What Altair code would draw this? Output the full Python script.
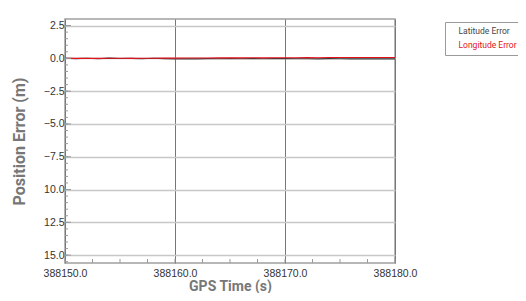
import altair as alt
import pandas as pd

times = [388150, 388151, 388152, 388153, 388154, 388155, 388156, 388157, 388158, 388159,
         388160, 388161, 388162, 388163, 388164, 388165, 388166, 388167, 388168, 388169,
         388170, 388171, 388172, 388173, 388174, 388175, 388176, 388177, 388178, 388179, 388180]
lat_err = [0.01, -0.02, 0.01, -0.03, 0.02, -0.01, 0.00, -0.03, 0.01, -0.02,
           -0.04, -0.03, -0.04, -0.02, -0.03, -0.02, -0.03, -0.02, -0.03, -0.02,
           -0.02, -0.03, -0.03, -0.04, -0.02, -0.03, -0.04, -0.03, -0.04, -0.03, -0.04]
lon_err = [0.00, 0.01, 0.00, 0.00, 0.01, 0.01, 0.00, 0.01, 0.01, 0.02,
           0.02, 0.03, 0.03, 0.03, 0.04, 0.04, 0.04, 0.05, 0.04, 0.05,
           0.05, 0.05, 0.06, 0.05, 0.06, 0.06, 0.06, 0.07, 0.07, 0.07, 0.07]
series = ["Latitude Error", "Longitude Error"]
colors = ["#3a3a3a", "#e3131b"]
y_major = [2.5, 0.0, -2.5, -5.0, -7.5, -10.0, -12.5, -15.0]
y_minor = [v / 2 for v in range(-31, 6)]
x_major = [388150, 388160, 388170, 388180]
x_minor = [388150 + 2.5 * i for i in range(13)]

LFONT = "Liberation Sans, Arial, sans-serif"
TFONT = "Roboto, sans-serif"

rows = []
for t, a, b in zip(times, lat_err, lon_err):
    rows.append({"t": t, "err": a, "series": series[0]})
    rows.append({"t": t, "err": b, "series": series[1]})
df = pd.DataFrame(rows)

xs = alt.Scale(domain=[388150, 388180], nice=False, zero=False)
ys = alt.Scale(domain=[-15.6, 3.0], nice=False, zero=False)

x_axis = alt.Axis(values=x_major, format=".1f", grid=True, gridColor="#777",
                  gridWidth=1, tickSize=0, labelPadding=5, domain=False,
                  labelOverlap=False, labelBound=False, labelFlush=False,
                  labelColor="#333", labelFontSize=10.5, labelFont=LFONT,
                  titleFont=TFONT, titleFontSize=14, titleFontWeight="bold",
                  titleColor="#777", titlePadding=1)
y_axis = alt.Axis(values=y_major, grid=True, gridColor="#c8c8c8", gridWidth=1.5,
                  tickSize=0, labelPadding=1, domain=False,
                  labelOverlap=False, labelBound=False, labelFlush=False,
                  labelExpr="format(abs(datum.value) >= 10 ? -datum.value : datum.value, '.1f')",
                  labelColor="#333", labelFontSize=10.5, labelFont=LFONT,
                  titleFont=TFONT, titleFontSize=16, titleFontWeight="bold",
                  titleColor="#777", titlePadding=16)
XT = "GPS Time (s)"
YT = "Position Error (m)"

lines = alt.Chart(df).mark_line(strokeWidth=1.1, clip=True).encode(
    x=alt.X("t:Q", scale=xs, title=XT, axis=x_axis),
    y=alt.Y("err:Q", scale=ys, title=YT, axis=y_axis),
    color=alt.Color("series:N", scale=alt.Scale(domain=series, range=colors),
                    legend=alt.Legend(title=None, orient="none", legendX=380, legendY=3,
                                      symbolSize=0, symbolOpacity=0, symbolStrokeWidth=0,
                                      labelOffset=0, labelFont=TFONT, labelFontSize=8.5,
                                      labelColor=alt.ExprRef("datum.value == 'Longitude Error' ? '#e3131b' : '#444'"),
                                      strokeColor="#9a9a9a", fillColor="white", padding=5,
                                      rowPadding=5)),
)

ymin = alt.Chart(pd.DataFrame({"v": y_minor})).mark_rule(color="#999", strokeWidth=1).encode(
    y=alt.Y("v:Q", scale=ys, title=YT, axis=y_axis), x=alt.value(0), x2=alt.value(3))
ymaj = alt.Chart(pd.DataFrame({"v": y_major})).mark_rule(color="#999", strokeWidth=1).encode(
    y=alt.Y("v:Q", scale=ys, title=YT, axis=y_axis), x=alt.value(0), x2=alt.value(6))
xmin = alt.Chart(pd.DataFrame({"v": x_minor})).mark_rule(color="#999", strokeWidth=1).encode(
    x=alt.X("v:Q", scale=xs, title=XT, axis=x_axis), y=alt.value(244), y2=alt.value(240))

chart = alt.layer(lines, ymin, ymaj, xmin).properties(
    width=330, height=244,
    autosize=alt.AutoSizeParams(type="none"),
    padding={"left": 57, "top": 11, "right": 123, "bottom": 30},
).configure_view(stroke="#a0a0a0", strokeWidth=1.5)

chart.save("out.html", embed_options={"renderer": "svg", "actions": False})
